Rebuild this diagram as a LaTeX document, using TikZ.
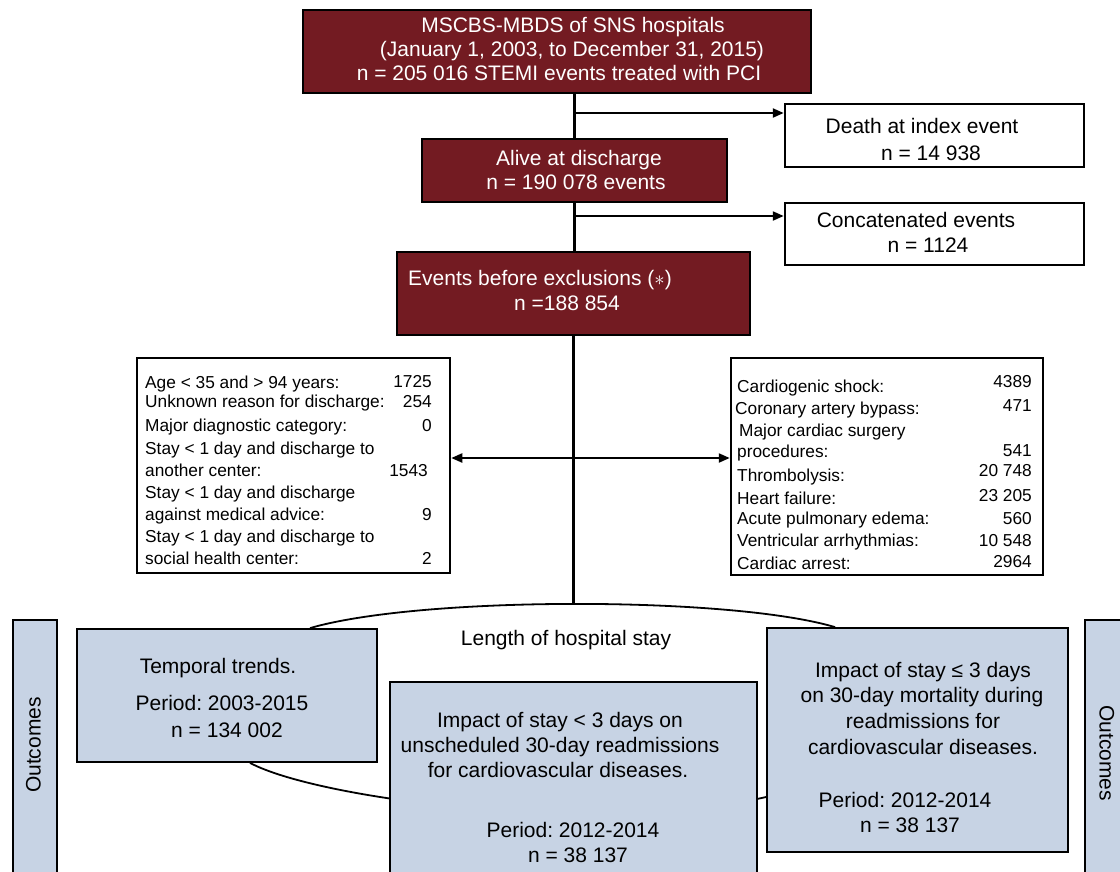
\documentclass[tikz,border=0pt]{standalone}
\usepackage{fontspec}
\setmainfont{Liberation Sans}
\usetikzlibrary{arrows.meta,backgrounds,calc}
\definecolor{boxred}{RGB}{115,27,34}
\definecolor{boxblue}{RGB}{199,211,228}
\tikzset{
  rbox/.style={draw=black, line width=2.5pt, fill=boxred, inner sep=0pt},
  wbox/.style={draw=black, line width=2.5pt, fill=white, inner sep=0pt},
  bluebox/.style={draw=black, line width=1.8pt, fill=boxblue, inner sep=0pt},
  big/.style={font=\fontsize{21}{25}\selectfont, inner sep=0pt, text height=15.5pt, text depth=4.5pt},
  wt/.style={big, text=white},
  sm/.style={font=\fontsize{17.3}{21}\selectfont, inner sep=0pt, text height=12.5pt, text depth=3.5pt},
  conn/.style={line width=2.2pt},
  arc/.style={line width=1.8pt},
  arr/.style={conn, -{Triangle[length=11pt,width=9pt]}},
  dbl/.style={conn, {Triangle[length=11pt,width=9pt]}-{Triangle[length=11pt,width=9pt]}},
}
\frenchspacing
\begin{document}
\frenchspacing
\begin{tikzpicture}[x=1pt,y=-1pt]
\useasboundingbox (0,0) rectangle (1120,871);
\clip (0,0) rectangle (1120,871);

% top box
\node[rbox, minimum width=508pt, minimum height=83pt] (top) at (557,51.5) {};
\node[wt] (t1) at (573,27) {MSCBS-MBDS of SNS hospitals};
\node[wt] (t2) at (572,51) {(January 1, 2003, to December 31, 2015)};
\node[wt] (t3) at (559,75) {n = 205 016 STEMI events treated with PCI};

% death box
\node[wbox, minimum width=299pt, minimum height=63pt] (death) at (934.5,135.5) {};
\node[big] (d1) at (922,128) {Death at index event};
\node[big] (d2) at (931,155) {n = 14 938};

% alive box
\node[rbox, minimum width=305pt, minimum height=63pt] (alive) at (574.5,170.5) {};
\node[wt] (a1) at (579,160) {Alive at discharge};
\node[wt] (a2) at (576,184) {n = 190 078 events};

% concatenated box
\node[wbox, minimum width=299pt, minimum height=62pt] (conc) at (934.5,234) {};
\node[big] (c1) at (916,222) {Concatenated events};
\node[big] (c2) at (928,247) {n = 1124};

% events before exclusions
\node[rbox, minimum width=353pt, minimum height=83pt] (ev) at (573.5,293.5) {};
\node[wt] (e1) at (540,280) {Events before exclusions ($\ast$)};
\node[wt] (e2) at (567,305) {n =188 854};

% exclusion boxes
\node[wbox, minimum width=313pt, minimum height=215pt] (exL) at (293.5,465.5) {};
\node[wbox, minimum width=312pt, minimum height=217pt] (exR) at (887,466.5) {};

\node[sm, anchor=west] (l1) at (145,384) {Age < 35 and > 94 years:};
\node[sm, anchor=west] (l2) at (145,403) {Unknown reason for discharge:};
\node[sm, anchor=west] (l3) at (145,427) {Major diagnostic category:};
\node[sm, anchor=west] (l4) at (145,450) {Stay < 1 day and discharge to};
\node[sm, anchor=west] (l5) at (145,472) {another center:};
\node[sm, anchor=west] (l6) at (145,494) {Stay < 1 day and discharge};
\node[sm, anchor=west] (l7) at (145,516) {against medical advice:};
\node[sm, anchor=west] (l8) at (145,538) {Stay < 1 day and discharge to};
\node[sm, anchor=west] (l9) at (145,560) {social health center:};
\node[sm, anchor=east] (n1) at (432,383) {1725};
\node[sm, anchor=east] (n2) at (432,403) {254};
\node[sm, anchor=east] (n3) at (432,427) {0};
\node[sm, anchor=east] (n5) at (428,472) {1543};
\node[sm, anchor=east] (n7) at (432,516) {9};
\node[sm, anchor=east] (n9) at (432,560) {2};

\node[sm, anchor=west] (r1) at (737,388) {Cardiogenic shock:};
\node[sm, anchor=west] (r2) at (735,410) {Coronary artery bypass:};
\node[sm, anchor=west] (r3) at (739,432) {Major cardiac surgery};
\node[sm, anchor=west] (r4) at (737,453) {procedures:};
\node[sm, anchor=west] (r5) at (737,477) {Thrombolysis:};
\node[sm, anchor=west] (r6) at (737,500) {Heart failure:};
\node[sm, anchor=west] (r7) at (737,520) {Acute pulmonary edema:};
\node[sm, anchor=west] (r8) at (737,542) {Ventricular arrhythmias:};
\node[sm, anchor=west] (r9) at (737,565) {Cardiac arrest:};
\node[sm, anchor=east] (m1) at (1032,383) {4389};
\node[sm, anchor=east] (m2) at (1032,407) {471};
\node[sm, anchor=east] (m4) at (1032,452) {541};
\node[sm, anchor=east] (m5) at (1032,472) {20 748};
\node[sm, anchor=east] (m6) at (1032,497) {23 205};
\node[sm, anchor=east] (m7) at (1032,520) {560};
\node[sm, anchor=east] (m8) at (1032,542) {10 548};
\node[sm, anchor=east] (m9) at (1032,563) {2964};

% connectors
\draw[conn] (alive.north |- top.south) -- (alive.north);
\coordinate (b1) at (574.5,113);
\draw[arr] (b1) -- (b1 -| death.west);
\draw[conn] (alive.south) -- (alive.south |- ev.north);
\coordinate (b2) at (574.5,216);
\draw[arr] (b2) -- (b2 -| conc.west);
\coordinate (apex) at (574,604);
\draw[conn] (ev.south) -- (ev.south |- apex);
\coordinate (mid) at (574,458);
\draw[dbl] (mid -| exL.east) -- (mid -| exR.west);

% outcome boxes
\node[bluebox, minimum width=300pt, minimum height=133pt] (tt) at (227,695.5) {};
\node[big] (tt1) at (218,668) {Temporal trends.};
\node[big] (tt2) at (222,705) {Period: 2003-2015};
\node[big] (tt3) at (227,732) {n = 134 002};

\node[bluebox, minimum width=367pt, minimum height=203pt] (mb) at (573.5,783.5) {};
\node[big] (mb1) at (560,722) {Impact of stay < 3 days on};
\node[big] (mb2) at (560,747) {unscheduled 30-day readmissions};
\node[big] (mb3) at (558,772) {for cardiovascular diseases.};
\node[big] (mb4) at (573,832) {Period: 2012-2014};
\node[big] (mb5) at (578,857) {n = 38 137};

\node[bluebox, minimum width=301pt, minimum height=224pt] (rb) at (917.5,740) {};
\node[big] (rb1) at (923,672) {Impact of stay ≤ 3 days};
\node[big] (rb2) at (922,697) {on 30-day mortality during};
\node[big] (rb3) at (923,723) {readmissions for};
\node[big] (rb4) at (923,749) {cardiovascular diseases.};
\node[big] (rb5) at (905,802) {Period: 2012-2014};
\node[big] (rb6) at (910,827) {n = 38 137};

\node[big] (len) at (566,640) {Length of hospital stay};

\node[bluebox, minimum width=44pt, minimum height=265pt] (oL) at (35,752.5) {};
\node[big, rotate=90] (oLt) at (35,745) {Outcomes};
\node[bluebox, minimum width=50pt, minimum height=265pt] (oR) at (1110,752.5) {};
\node[big, rotate=-90] (oRt) at (1105,753) {Outcomes};

\begin{pgfonlayer}{background}
\draw[arc] ([xshift=83pt]tt.north) .. controls (420,596) and (730,596) .. ([xshift=-82.5pt]rb.north);
\draw[arc] ([xshift=23pt]tt.south) .. controls (320,800) and (600,835) .. ([yshift=-57pt]rb.west);
\end{pgfonlayer}
\end{tikzpicture}
\end{document}
